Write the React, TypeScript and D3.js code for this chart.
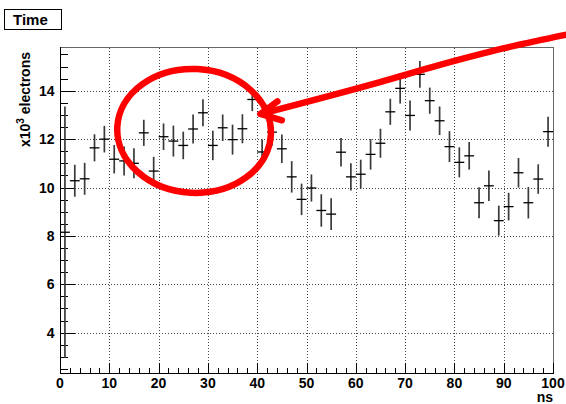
import React, { useEffect } from "react";
import * as d3 from "d3";

// Histogram bins (ns) — 2 ns wide, centred on odd values
const binCenters = [
  1, 3, 5, 7, 9, 11, 13, 15, 17, 19, 21, 23, 25, 27, 29, 31, 33, 35, 37, 39,
  41, 43, 45, 47, 49, 51, 53, 55, 57, 59, 61, 63, 65, 67, 69, 71, 73, 75, 77, 79,
  81, 83, 85, 87, 89, 91, 93, 95, 97, 99,
];
const binWidth = 2;

// Bin contents (x10^3 electrons)
const counts = [
  8.15, 10.28, 10.36, 11.64, 12.0, 11.17, 11.1, 11.0, 12.26, 10.68,
  12.1, 11.92, 11.74, 12.42, 13.09, 11.74, 12.47, 11.98, 12.43, 13.64,
  11.47, 12.29, 11.6, 10.44, 9.51, 9.98, 9.05, 8.9, 11.46, 10.44,
  10.55, 11.37, 11.83, 13.13, 14.1, 12.98, 14.68, 13.59, 12.76, 11.69,
  11.04, 11.31, 9.37, 10.07, 8.63, 9.21, 10.61, 9.37, 10.35, 12.31,
];

// Bin errors (x10^3 electrons)
const errors = [
  5.2, 0.66, 0.66, 0.56, 0.55, 0.59, 0.6, 0.62, 0.54, 0.59,
  0.55, 0.64, 0.57, 0.6, 0.56, 0.61, 0.55, 0.62, 0.6, 0.48,
  0.52, 0.55, 0.59, 0.65, 0.65, 0.56, 0.67, 0.66, 0.59, 0.56,
  0.6, 0.63, 0.6, 0.54, 0.63, 0.62, 0.55, 0.54, 0.59, 0.64,
  0.62, 0.57, 0.64, 0.63, 0.62, 0.57, 0.61, 0.65, 0.61, 0.62,
];

const xTicks = [0, 10, 20, 30, 40, 50, 60, 70, 80, 90, 100];
const yTicks = [4, 6, 8, 10, 12, 14];
const xDomain = [0, 100];
const yDomain = [2.33, 15.81];

const titleText = "Time";
const xTitle = "ns";

// Hand-drawn highlight, in data coordinates (ns, x10^3 electrons)
const ringCenter = [27.2, 12.34];
const ringRadii = [15.6, 2.56];
const arrowPath = [
  [103.45, 16.35],
  [89.86, 15.75],
  [77.08, 15.07],
  [64.91, 14.36],
  [40.67, 13.04],
];
const arrowTip = [40.67, 13.04];
const arrowBarbs = [
  [44.1, 13.56],
  [45.0, 12.78],
];

const W = 566;
const H = 404;
const M = { left: 60, right: 13, top: 47, bottom: 31 };
const FONT = "'Liberation Sans', Arial, Helvetica, sans-serif";

export default function App() {
  useEffect(() => {
    document.body.style.margin = "0";
  }, []);

  const x = d3.scaleLinear().domain(xDomain).range([M.left, W - M.right]);
  const y = d3.scaleLinear().domain(yDomain).range([H - M.bottom, M.top]);

  const x0 = M.left;
  const x1 = W - M.right;
  const y0 = H - M.bottom;
  const y1 = M.top;

  const xMinor = d3.range(0, 100.001, 2).filter((v) => v % 10 !== 0);
  const yMinor = d3
    .range(2.5, 15.81, 0.5)
    .filter((v) => Math.abs(v % 2) > 1e-6);

  const red = "#ff0000";

  const arrowLine = d3
    .line<number[]>()
    .x((p) => x(p[0]))
    .y((p) => y(p[1]))
    .curve(d3.curveMonotoneX);

  return (
    <svg
      width={W}
      height={H}
      style={{ position: "absolute", left: 0, top: 0, display: "block", background: "#fff" }}
      fontFamily={FONT}
    >
      <rect x={0} y={0} width={W} height={H} fill="#fff" />

      {/* grid */}
      <g stroke="#444" strokeWidth={1} strokeDasharray="1 2" shapeRendering="crispEdges">
        {xTicks.slice(1, -1).map((t) => (
          <line key={"gx" + t} x1={Math.round(x(t)) + 0.5} x2={Math.round(x(t)) + 0.5} y1={y0} y2={y1} />
        ))}
        {yTicks.map((t) => (
          <line key={"gy" + t} x1={x0} x2={x1} y1={Math.round(y(t)) + 0.5} y2={Math.round(y(t)) + 0.5} />
        ))}
      </g>

      {/* frame */}
      <g shapeRendering="crispEdges" fill="none">
        <line x1={x1 + 0.5} x2={x1 + 0.5} y1={y1} y2={y0} stroke="#666" />
        <line x1={x0} x2={x1} y1={y1 + 0.5} y2={y1 + 0.5} stroke="#666" />
        <line x1={x0 + 0.5} x2={x0 + 0.5} y1={y1} y2={y0 + 0.5} stroke="#000" />
        <line x1={x0} x2={x1 + 1} y1={y0 + 0.5} y2={y0 + 0.5} stroke="#000" />
      </g>

      {/* axis ticks */}
      <g stroke="#000" strokeWidth={1} shapeRendering="crispEdges">
        {xTicks.map((t) => (
          <line key={"tx" + t} x1={Math.round(x(t)) + 0.5} x2={Math.round(x(t)) + 0.5} y1={y0} y2={y0 - 10} />
        ))}
        {xMinor.map((t) => (
          <line key={"mx" + t} x1={Math.round(x(t)) + 0.5} x2={Math.round(x(t)) + 0.5} y1={y0} y2={y0 - 5} />
        ))}
        {yTicks.map((t) => (
          <line key={"ty" + t} x1={x0} x2={x0 + 15} y1={Math.round(y(t)) + 0.5} y2={Math.round(y(t)) + 0.5} />
        ))}
        {yMinor.map((t) => (
          <line key={"my" + t} x1={x0} x2={x0 + 7.5} y1={Math.round(y(t)) + 0.5} y2={Math.round(y(t)) + 0.5} />
        ))}
      </g>

      {/* tick labels */}
      <g fontSize={14} fontWeight="bold" fill="#000">
        {xTicks.map((t) => (
          <text key={"lx" + t} x={x(t)} y={388} textAnchor="middle">
            {t}
          </text>
        ))}
        {yTicks.map((t) => (
          <text key={"ly" + t} x={54.5} y={y(t) + 5} textAnchor="end">
            {t}
          </text>
        ))}
      </g>

      {/* axis titles */}
      <text x={x1} y={402} textAnchor="end" fontSize={14} fontWeight="bold">
        {xTitle}
      </text>
      <text
        transform={`translate(29.5, ${y1 + 5}) rotate(-90)`}
        textAnchor="end"
        fontSize={14}
        fontWeight="bold"
      >
        x10
        <tspan dy={-6} fontSize={10}>
          3
        </tspan>
        <tspan dy={6}> electrons</tspan>
      </text>

      {/* data: error crosses */}
      <g>
        {binCenters.map((c, i) => (
          <g key={"b" + c}>
            <line
              x1={x(c)}
              x2={x(c)}
              y1={y(counts[i] - errors[i])}
              y2={y(counts[i] + errors[i])}
              stroke="#3a3a3a"
              strokeWidth={1.7}
            />
            <line
              x1={x(c - binWidth / 2)}
              x2={x(c + binWidth / 2)}
              y1={y(counts[i])}
              y2={y(counts[i])}
              stroke="#000"
              strokeWidth={1.3}
            />
          </g>
        ))}
      </g>

      {/* title box */}
      <rect x={4.5} y={9.5} width={57} height={20} fill="#fff" stroke="#000" strokeWidth={1} />
      <text x={13} y={24.5} fontSize={15} fontWeight="bold">
        {titleText}
      </text>

      {/* highlight ring and arrow */}
      <g fill="none" stroke={red} strokeWidth={6.5} strokeLinecap="round" strokeLinejoin="round">
        <ellipse
          cx={x(ringCenter[0])}
          cy={y(ringCenter[1])}
          rx={x(ringRadii[0]) - x(0)}
          ry={y(0) - y(ringRadii[1])}
          transform={`rotate(3, ${x(ringCenter[0])}, ${y(ringCenter[1])})`}
        />
        <path d={arrowLine([...arrowPath].reverse()) || ""} />
        <polyline
          points={[arrowBarbs[0], arrowTip, arrowBarbs[1]]
            .map((p) => `${x(p[0])},${y(p[1])}`)
            .join(" ")}
        />
      </g>
    </svg>
  );
}
